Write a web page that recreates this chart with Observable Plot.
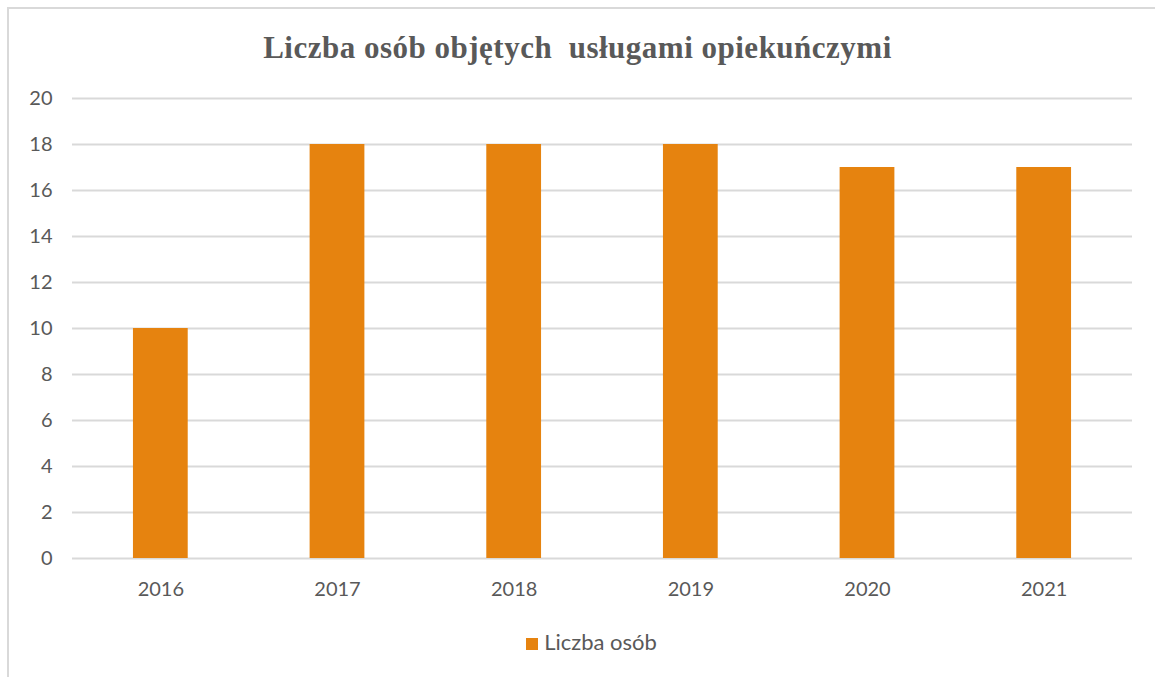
<!DOCTYPE html>
<html>
<head>
<meta charset="utf-8">
<script src="https://cdn.jsdelivr.net/npm/d3@7"></script>
<script src="https://cdn.jsdelivr.net/npm/@observablehq/plot@0.6"></script>
<style>
  html, body { margin: 0; padding: 0; background: #fff; }
  body { width: 1155px; height: 677px; position: relative; overflow: hidden; font-family: Lato, "Open Sans", sans-serif; }
  #frame { position: absolute; left: 7px; top: 7px; width: 1160px; height: 690px; border: 2px solid #d9d9d9; box-sizing: border-box; }
  #title { position: absolute; left: 0; width: 1155px; top: 28px; text-align: center; font-family: "Liberation Serif", "Times New Roman", serif; font-weight: bold; font-size: 31px; letter-spacing: 0.5px; color: #595959; line-height: 40px; }
  #chart { position: absolute; left: 0; top: 80px; }
  #legend { position: absolute; left: 14px; width: 1155px; top: 629px; text-align: center; font-size: 22px; color: #595959; line-height: 26px; }
  #legend .sw { display: inline-block; width: 12px; height: 12px; background: #e6830f; margin-right: 6px; vertical-align: 0px; }
</style>
</head>
<body>
<div id="frame"></div>
<div id="title">Liczba osób objętych&nbsp; usługami opiekuńczymi</div>
<div id="chart"></div>
<div id="legend"><span class="sw"></span>Liczba osób</div>
<script>
const years = ["2016", "2017", "2018", "2019", "2020", "2021"];
const counts = [10, 18, 18, 18, 17, 17];
const yTicks = [0, 2, 4, 6, 8, 10, 12, 14, 16, 18, 20];
const seriesName = "Liczba osób";

const data = years.map((y, i) => ({year: y, value: counts[i]}));

const chart = Plot.plot({
  width: 1155,
  height: 540,
  marginLeft: 72,
  marginRight: 23,
  marginTop: 18,
  marginBottom: 62,
  style: {fontFamily: "Lato, 'Open Sans', sans-serif", fontSize: "20px", color: "#595959", background: "transparent"},
  x: {domain: years, paddingInner: 0.69, paddingOuter: 0.345, round: false, label: null},
  y: {domain: [0, 20], label: null},
  marks: [
    Plot.ruleY(yTicks, {stroke: "#d9d9d9", strokeWidth: 2, strokeOpacity: 1}),
    Plot.barY(data, {x: "year", y: "value", fill: "#e6830f"}),
    Plot.axisY({ticks: yTicks, tickSize: 0, tickPadding: 20, fontSize: 20, fill: "#595959", label: null}),
    Plot.axisX({tickSize: 0, tickPadding: 23, fontSize: 20, fill: "#595959", label: null})
  ]
});
document.getElementById("chart").appendChild(chart);
</script>
</body>
</html>
